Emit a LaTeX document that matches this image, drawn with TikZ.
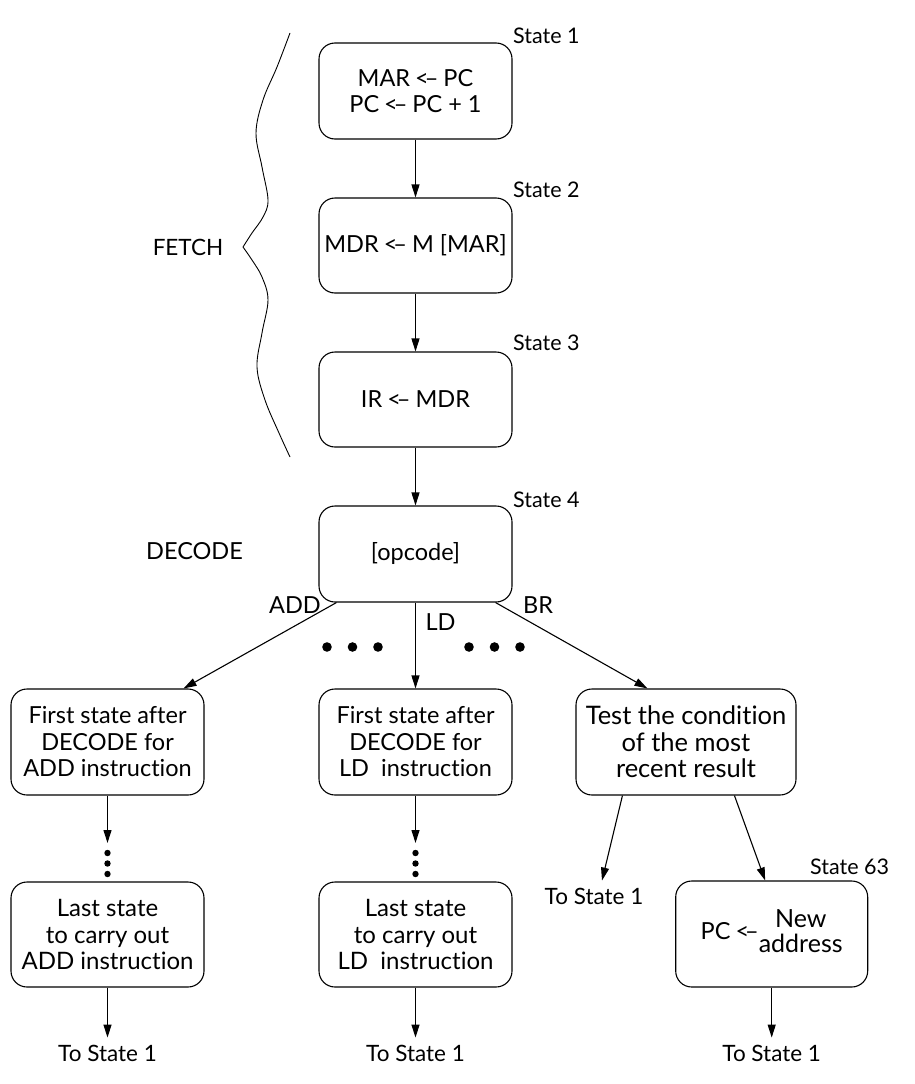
\documentclass[tikz,border=0pt]{standalone}
\usepackage{fontspec}
\setmainfont{Lato}[Ligatures={NoCommon,NoDiscretionary,NoContextual}]
\usetikzlibrary{arrows.meta,calc}
\newcommand\bxfont{\fontsize{23.5}{26.5}\selectfont}
\newcommand\lbfont{\fontsize{21.5}{24}\selectfont}
\tikzset{
  stbox/.style={draw, line width=1.1pt, rounded corners=16pt, align=center, inner sep=0pt, font=\bxfont},
  lbl/.style={inner sep=0pt, font=\lbfont},
  txt/.style={inner sep=0pt, font=\bxfont},
  dest/.style={inner xsep=0pt, inner ysep=7pt, font=\fontsize{22.5}{24}\selectfont},
  conn/.style={line width=1.1pt, -{Triangle[length=13pt,width=8pt]}},
  brace/.style={line width=0.9pt},
}
\def\ar{\kern-1pt<\kern-4pt–\kern-1pt}
\begin{document}
\begin{tikzpicture}[x=1pt,y=-1pt]
\useasboundingbox (0,0) rectangle (914,1084);
% state boxes
\node[stbox, minimum width=193pt, minimum height=96pt] (s1) at (415.5,91) {MAR \ar{} PC\\PC \ar{} PC + 1};
\node[stbox, minimum width=193pt, minimum height=95pt] (s2) at (415.5,245.5) {MDR \ar{} M [MAR]};
\node[stbox, minimum width=193pt, minimum height=95pt] (s3) at (415.5,399.5) {IR \ar{} MDR};
\node[stbox, minimum width=193pt, minimum height=96pt] (s4) at (415.5,554) {[opcode]};
\node[stbox, minimum width=193pt, minimum height=106pt] (a1) at (107.5,742) {First state after\\DECODE for\\ADD instruction};
\node[stbox, minimum width=193pt, minimum height=106pt] (l1) at (415.5,742) {First state after\\DECODE for\\LD\ \ instruction};
\node[stbox, minimum width=220pt, minimum height=106pt, font=\fontsize{25.5}{26.5}\selectfont] (b1) at (686,742) {Test the condition\\of the most\\recent result};
\node[stbox, minimum width=193pt, minimum height=105pt, font=\fontsize{24}{26.5}\selectfont] (a2) at (107.5,934.5) {Last state\\to carry out\\ADD instruction};
\node[stbox, minimum width=193pt, minimum height=105pt, font=\fontsize{24}{26.5}\selectfont] (l2) at (415.5,934.5) {Last state\\to carry out\\LD\ \ instruction};
\node[stbox, minimum width=192pt, minimum height=106pt] (s63) at (771.7,934) {PC \ar{}\kern1pt\raisebox{-1pt}{\fontsize{25}{22}\selectfont\begin{tabular}{@{}c@{}}New\\address\end{tabular}}};
% state labels
\node[lbl, anchor=west] (l-s1) at (513,36) {State 1};
\node[lbl, anchor=west] (l-s2) at (513,190) {State 2};
\node[lbl, anchor=west] (l-s3) at (513,343) {State 3};
\node[lbl, anchor=west] (l-s4) at (513,500) {State 4};
\node[lbl, anchor=west] (l-s63) at (810,867) {State 63};
% phase labels
\node[txt, font=\fontsize{22.5}{24}\selectfont] (fetch) at (188,247) {FETCH};
\node[txt] (decode) at (194.5,551) {DECODE};
\node[txt] (add) at (295,605) {ADD};
\node[txt] (br) at (538,605) {BR};
\node[txt] (ld) at (440.5,622) {LD};
% destination labels
\node[dest] (ta) at (107.5,1053) {To State 1};
\node[dest] (tl) at (415.5,1053) {To State 1};
\node[dest] (ts) at (771.7,1053) {To State 1};
\node[dest] (tb) at (594,896) {To State 1};
\coordinate (a1e) at (107.5,843);
\coordinate (l1e) at (415.5,843);
% connectors
\draw[conn] (s1) -- (s2);
\draw[conn] (s2) -- (s3);
\draw[conn] (s3) -- (s4);
\draw[conn] (s4) -- (l1);
\draw[conn] ($(s4.south west)+(18,0)$) -- ($(a1.north east)+(-21,0)$);
\draw[conn] ($(s4.south east)+(-17,0)$) -- ($(b1.north west)+(72,0)$);
\draw[conn] (a1) -- (a1e);
\draw[conn] (l1) -- (l1e);
\draw[conn] (a2) -- (ta);
\draw[conn] (l2) -- (tl);
\draw[conn] (s63) -- (ts);
\draw[conn] ($(b1.south west)+(47,0)$) -- ($(tb.north)+(8,0)$);
\draw[conn] ($(b1.south west)+(159,0)$) -- ($(s63.north west)+(90,0)$);
% ellipsis dots
\foreach \yy in {853,863.5,874} {
  \fill (107.5,\yy) circle (3.2pt);
  \fill (415.5,\yy) circle (3.2pt);
}
\foreach \xx in {327,352.5,378,469,494.5,520} {
  \fill (\xx,647) circle (4.8pt);
}
% brace
\draw[brace] plot[smooth, tension=0.6] coordinates {(290,33) (277,67) (263,100) (256,133) (262,167) (268,200) (263,217) (252,233) (243,247)};
\draw[brace] plot[smooth, tension=0.6] coordinates {(243,247) (252,260) (262,277) (268,300) (262,333) (257,367) (265,400) (279,433) (290,457)};
\end{tikzpicture}
\end{document}
